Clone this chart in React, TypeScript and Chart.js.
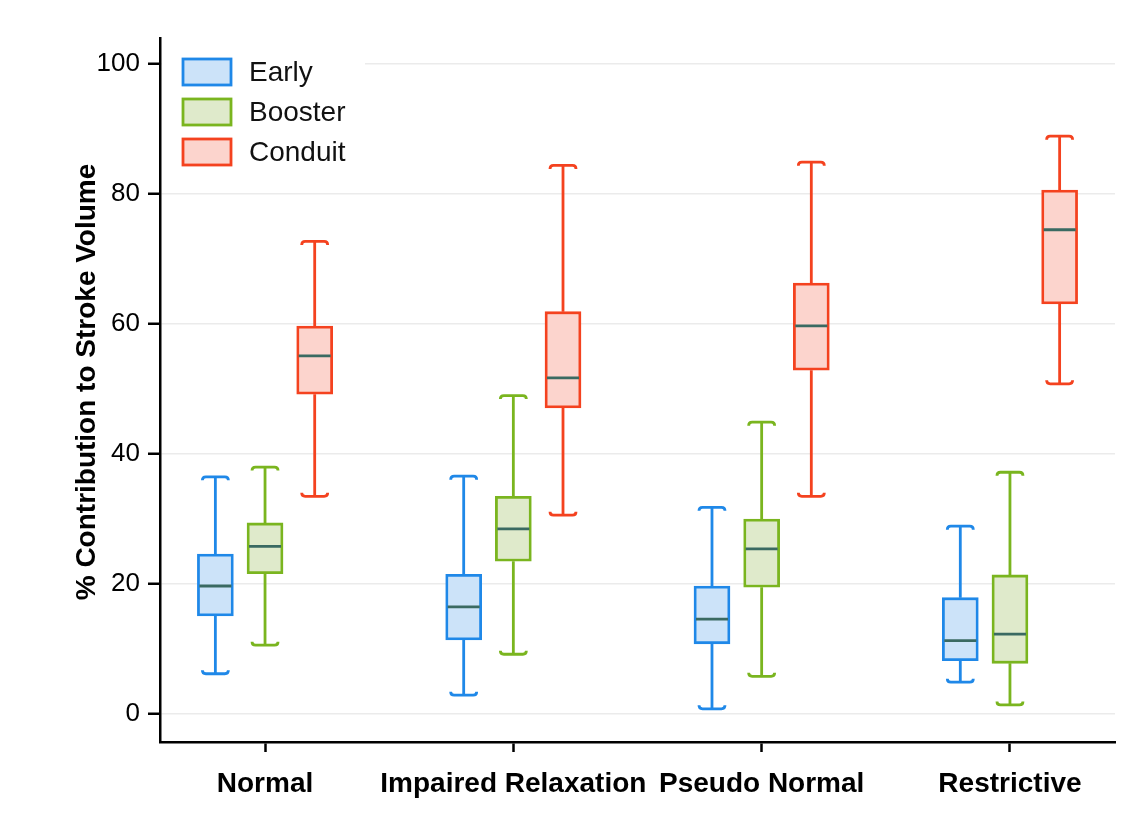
import React, { useEffect, useRef } from "react";
import { Chart, registerables } from "chart.js";

Chart.register(...registerables);

const categories = ["Normal", "Impaired Relaxation", "Pseudo Normal", "Restrictive"];
const seriesNames = ["Early", "Booster", "Conduit"];
const yTitle = "% Contribution to Stroke Volume";

// [min, q1, median, q3, max] per category
const earlyStats = [
  [6.2, 15.1, 19.7, 24.6, 36.5],
  [2.9, 11.4, 16.5, 21.5, 36.6],
  [0.8, 10.8, 14.6, 19.7, 31.8],
  [4.9, 8.2, 11.3, 17.9, 28.9],
];
const boosterStats = [
  [10.6, 21.6, 25.8, 29.4, 38.0],
  [9.2, 23.5, 28.5, 33.5, 49.0],
  [5.8, 19.5, 25.4, 30.0, 44.9],
  [1.4, 7.8, 12.3, 21.4, 37.2],
];
const conduitStats = [
  [33.5, 49.2, 55.1, 59.7, 72.7],
  [30.6, 47.1, 51.7, 61.9, 84.4],
  [33.5, 52.9, 59.7, 66.3, 84.9],
  [50.8, 63.1, 74.5, 80.6, 88.9],
];
const yTicks = [0, 20, 40, 60, 80, 100];
const groupOffsets = [-0.2, 0, 0.2];

const strokeColors = ["#1f88e8", "#7ab51f", "#f4421f"];
const fillColors = ["#cce3f9", "#dfeacb", "#fcd4cd"];
const medianColor = "#3a6a62";

const allStats = [earlyStats, boosterStats, conduitStats];
const FONT = "'Liberation Sans', Arial, sans-serif";
const LW = 2.8;

const boxPlugin = {
  id: "boxWhiskers",
  beforeDatasetsDraw(chart: any) {
    const { ctx, scales } = chart;
    const xs = scales.x;
    const ys = scales.y;
    ctx.save();
    ctx.lineWidth = LW;
    allStats.forEach((stats, si) => {
      ctx.strokeStyle = strokeColors[si];
      stats.forEach((s, ci) => {
        const xc = xs.getPixelForValue(ci + 1 + groupOffsets[si]);
        const yMin = ys.getPixelForValue(s[0]);
        const yQ1 = ys.getPixelForValue(s[1]);
        const yQ3 = ys.getPixelForValue(s[3]);
        const yMax = ys.getPixelForValue(s[4]);
        const hw = 13;
        const hook = 3.5;
        ctx.beginPath();
        ctx.moveTo(xc, yQ3);
        ctx.lineTo(xc, yMax);
        ctx.moveTo(xc, yQ1);
        ctx.lineTo(xc, yMin);
        ctx.stroke();
        ctx.beginPath();
        ctx.moveTo(xc - hw, yMax + hook);
        ctx.quadraticCurveTo(xc - hw, yMax, xc - hw + hook, yMax);
        ctx.lineTo(xc + hw - hook, yMax);
        ctx.quadraticCurveTo(xc + hw, yMax, xc + hw, yMax + hook);
        ctx.moveTo(xc - hw, yMin - hook);
        ctx.quadraticCurveTo(xc - hw, yMin, xc - hw + hook, yMin);
        ctx.lineTo(xc + hw - hook, yMin);
        ctx.quadraticCurveTo(xc + hw, yMin, xc + hw, yMin - hook);
        ctx.stroke();
      });
    });
    ctx.restore();
  },
  afterDatasetsDraw(chart: any) {
    const { ctx, scales } = chart;
    const xs = scales.x;
    const ys = scales.y;
    ctx.save();
    ctx.lineWidth = LW;
    ctx.strokeStyle = medianColor;
    allStats.forEach((stats, si) => {
      stats.forEach((s, ci) => {
        const xc = xs.getPixelForValue(ci + 1 + groupOffsets[si]);
        const ym = ys.getPixelForValue(s[2]);
        ctx.beginPath();
        ctx.moveTo(xc - 16, ym);
        ctx.lineTo(xc + 16, ym);
        ctx.stroke();
      });
    });
    ctx.restore();
  },
  afterDraw(chart: any) {
    const { ctx, chartArea } = chart;
    ctx.save();
    ctx.fillStyle = "#ffffff";
    ctx.fillRect(chartArea.left + 2, 44, 203, 128);
    seriesNames.forEach((name, i) => {
      const cy = 72 + i * 40;
      ctx.fillStyle = fillColors[i];
      ctx.strokeStyle = strokeColors[i];
      ctx.lineWidth = LW;
      ctx.fillRect(183, cy - 13, 48, 26);
      ctx.strokeRect(183, cy - 13, 48, 26);
      ctx.fillStyle = "#111";
      ctx.font = `28px ${FONT}`;
      ctx.textBaseline = "middle";
      ctx.textAlign = "left";
      ctx.fillText(name, 249, cy + 1);
    });
    // y-axis title
    ctx.translate(87, 382);
    ctx.rotate(-Math.PI / 2);
    ctx.fillStyle = "#000";
    ctx.font = `bold 28px ${FONT}`;
    ctx.textAlign = "center";
    ctx.textBaseline = "middle";
    ctx.fillText(yTitle, 0, 0);
    ctx.restore();
  },
};

export default function App() {
  const canvasRef = useRef<HTMLCanvasElement | null>(null);

  useEffect(() => {
    document.body.style.margin = "0";
    const canvas = canvasRef.current;
    if (!canvas) return;
    const datasets = allStats.map((stats, si) => ({
      label: seriesNames[si],
      data: stats.map((s, ci) => ({ x: ci + 1 + groupOffsets[si], y: [s[1], s[3]] })),
      backgroundColor: fillColors[si],
      borderColor: strokeColors[si],
      borderWidth: LW,
      borderSkipped: false,
      barThickness: 36,
      grouped: false,
    }));
    const chart = new Chart(canvas, {
      type: "bar",
      data: { datasets: datasets as any },
      plugins: [boxPlugin],
      options: {
        animation: false,
        responsive: false,
        maintainAspectRatio: false,
        layout: { padding: { left: 0, top: 38, right: 18, bottom: 0 } },
        plugins: { legend: { display: false }, tooltip: { enabled: false } },
        scales: {
          x: {
            type: "linear",
            offset: false,
            min: 0.577,
            max: 4.423,
            afterBuildTicks: (scale: any) => {
              scale.ticks = categories.map((_, i) => ({ value: i + 1 }));
            },
            afterFit: (scale: any) => {
              scale.height = 79;
            },
            ticks: {
              autoSkip: false,
              maxRotation: 0,
              padding: 15,
              color: "#000",
              font: { family: FONT, size: 28, weight: "bold" },
              callback: (v: any) => categories[Math.round(Number(v)) - 1] ?? "",
            },
            grid: {
              offset: false,
              drawOnChartArea: false,
              drawTicks: true,
              tickLength: 10,
              tickColor: "#000",
              tickWidth: 2.5,
            },
            border: { display: true, color: "#000", width: 2.5 },
          },
          y: {
            type: "linear",
            min: -4.3,
            max: 104,
            afterBuildTicks: (scale: any) => {
              scale.ticks = yTicks.map((v) => ({ value: v }));
            },
            afterFit: (scale: any) => {
              scale.width = 160;
            },
            ticks: {
              padding: 8,
              color: "#000",
              font: { family: FONT, size: 26 },
            },
            grid: {
              color: "#ebebeb",
              lineWidth: 1.5,
              tickColor: "#000",
              tickWidth: 2.5,
              tickLength: 12,
            },
            border: { display: true, color: "#000", width: 2.5 },
            title: { display: false },
          },
        },
      },
    });
    return () => chart.destroy();
  }, []);

  return (
    <div style={{ width: 1133, height: 821 }}>
      <canvas ref={canvasRef} width={1133} height={821} style={{ width: 1133, height: 821, display: "block" }} />
    </div>
  );
}
